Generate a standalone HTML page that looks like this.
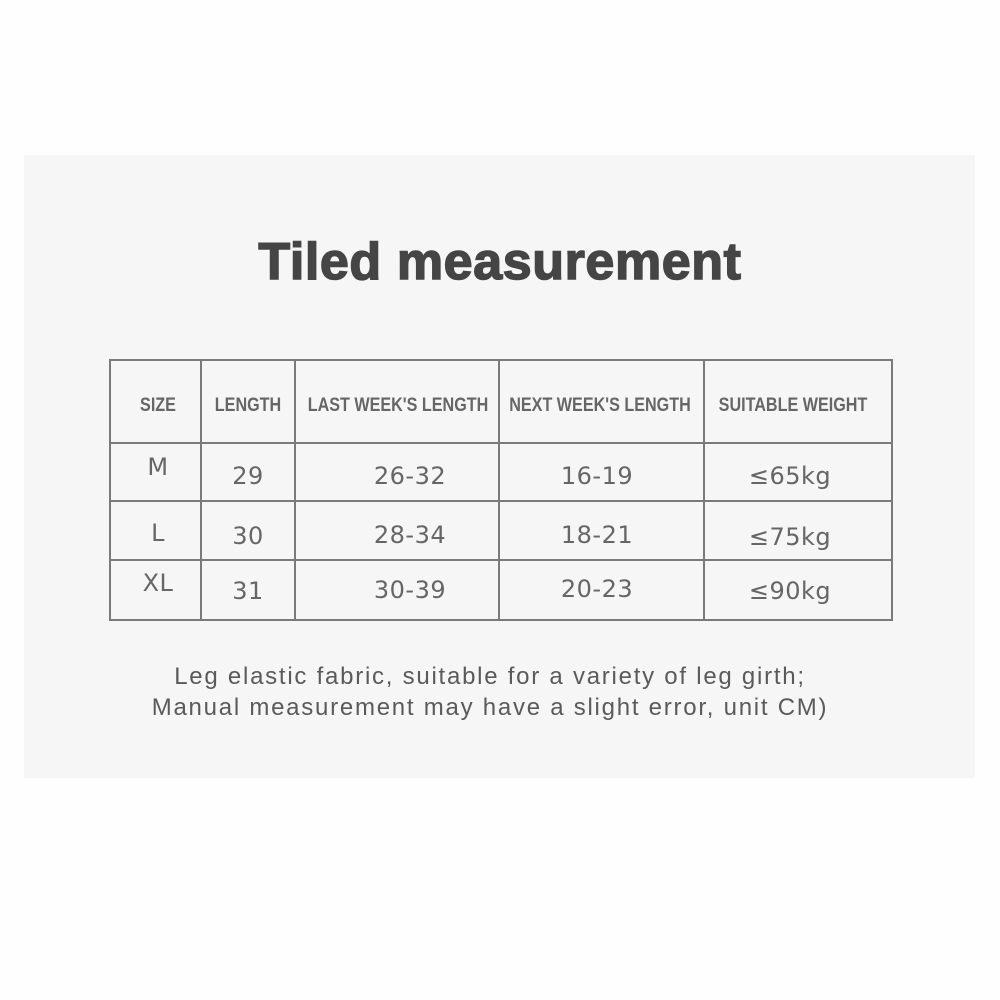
<!DOCTYPE html>
<html><head><meta charset="utf-8"><style>
body{margin:0;width:1000px;height:1000px;background:#fefefe;position:relative;overflow:hidden;font-family:"Liberation Sans",sans-serif}
.panel{position:absolute;left:24px;top:155px;width:951px;height:623px;background:#f6f6f6}
.title{position:absolute;left:0;width:1000px;top:232px;text-align:center;font-size:52px;font-weight:bold;color:#454545;letter-spacing:0.6px;-webkit-text-stroke:1.5px #454545}
.v{position:absolute;top:0;width:2px;height:262px;background:#7a7a7a}
.h{position:absolute;left:0;height:2px;width:784px;background:#7a7a7a}
.t{position:absolute;transform:translate(-50%,-50%);white-space:nowrap;color:#666}
.hd{font-family:"Liberation Sans Narrow","Liberation Sans",sans-serif;font-weight:bold;font-size:19px;color:#666;transform:translate(-50%,-50%) scaleX(0.85)}
.d{font-family:"DejaVu Sans","Liberation Sans",sans-serif;font-size:24px;color:#666;letter-spacing:0.5px}
.note{position:absolute;left:0;width:980px;text-align:center;font-size:24px;color:#5a5a5a;letter-spacing:1.75px;line-height:31px}
</style></head><body>
<div class="panel"></div>
<div class="title">Tiled measurement</div>
<div style="position:absolute;left:109px;top:359px;width:784px;height:262px">
<div class="v" style="left:0"></div><div class="v" style="left:91px"></div><div class="v" style="left:185px"></div><div class="v" style="left:389px"></div><div class="v" style="left:594px"></div><div class="v" style="left:782px"></div>
<div class="h" style="top:0"></div><div class="h" style="top:83px"></div><div class="h" style="top:141px"></div><div class="h" style="top:200px"></div><div class="h" style="top:260px"></div>
</div>
<div class="t hd" style="left:158px;top:406px">SIZE</div>
<div class="t hd" style="left:248px;top:406px">LENGTH</div>
<div class="t hd" style="left:398px;top:406px">LAST WEEK'S LENGTH</div>
<div class="t hd" style="left:600px;top:406px">NEXT WEEK'S LENGTH</div>
<div class="t hd" style="left:793px;top:406px">SUITABLE WEIGHT</div>

<div class="t d" style="left:158px;top:467px">M</div>
<div class="t d" style="left:248px;top:476px">29</div>
<div class="t d" style="left:410px;top:476px">26-32</div>
<div class="t d" style="left:597px;top:476px">16-19</div>
<div class="t d" style="left:790px;top:476px">≤65kg</div>

<div class="t d" style="left:158px;top:533px">L</div>
<div class="t d" style="left:248px;top:536px">30</div>
<div class="t d" style="left:410px;top:535px">28-34</div>
<div class="t d" style="left:597px;top:535px">18-21</div>
<div class="t d" style="left:790px;top:537px">≤75kg</div>

<div class="t d" style="left:158px;top:583px">XL</div>
<div class="t d" style="left:248px;top:591px">31</div>
<div class="t d" style="left:410px;top:590px">30-39</div>
<div class="t d" style="left:597px;top:589px">20-23</div>
<div class="t d" style="left:790px;top:591px">≤90kg</div>

<div class="note" style="top:661px">Leg elastic fabric, suitable for a variety of leg girth;<br>Manual measurement may have a slight error, unit CM)</div>
</body></html>
